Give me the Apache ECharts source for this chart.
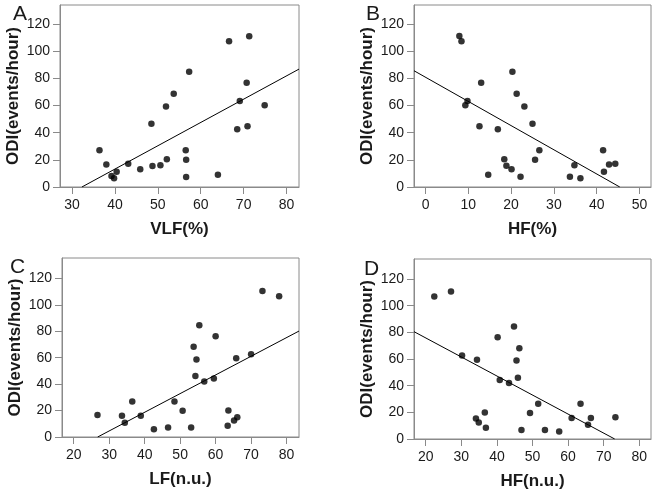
<!DOCTYPE html>
<html>
<head>
<meta charset="utf-8">
<script src="https://cdn.jsdelivr.net/npm/echarts@6/dist/echarts.min.js"></script>
<style>html,body{margin:0;padding:0;background:#fff}#c{width:657px;height:497px}</style>
</head>
<body>
<div id="c"></div>
<script>
// ---- data ----
const yTickValues = [0, 20, 40, 60, 80, 100, 120];

const vlfX = [36.4, 38.0, 39.2, 39.8, 40.4, 43.1, 45.9, 48.5, 48.75, 50.6, 51.9, 52.1, 53.7, 56.5, 56.6, 56.6, 57.3, 64.0, 66.6, 68.5, 69.1, 70.7, 70.9, 71.3, 74.9];
const vlfY = [27.1, 16.6, 8.1, 6.4, 11.2, 17.1, 13.0, 46.5, 15.4, 16.1, 59.2, 20.5, 68.7, 27.1, 20.0, 7.3, 84.8, 9.0, 107.3, 42.5, 63.3, 76.8, 44.7, 111.0, 60.1];
const vlfFit = [[32.3, 0], [82.9, 86.8]];
const vlfTicks = [30, 40, 50, 60, 70, 80];

const hfPctX = [7.9, 8.4, 9.3, 9.8, 12.6, 13.0, 14.65, 16.9, 18.4, 18.9, 20.1, 20.3, 21.3, 22.2, 23.1, 25.0, 25.6, 26.6, 33.75, 34.8, 36.2, 41.5, 41.7, 42.9, 44.35];
const hfPctY = [111.2, 107.3, 60.1, 63.3, 44.7, 76.8, 9.0, 42.5, 20.5, 15.6, 13.0, 84.8, 68.7, 7.6, 59.2, 46.5, 20.0, 27.1, 7.6, 16.1, 6.4, 27.1, 11.2, 16.6, 17.1];
const hfPctFit = [[-2.7, 85.6], [45.4, 0]];
const hfPctTicks = [0, 10, 20, 30, 40, 50];

const lfX = [26.7, 33.6, 34.4, 36.5, 38.9, 42.6, 46.6, 48.4, 50.7, 53.1, 53.8, 54.3, 54.6, 55.4, 56.8, 59.5, 60.0, 63.4, 63.6, 65.2, 65.8, 66.1, 70.0, 73.2, 77.9];
const lfY = [16.7, 16.0, 10.8, 26.8, 16.0, 5.9, 7.1, 26.8, 19.9, 7.1, 68.3, 46.2, 58.7, 84.5, 42.0, 44.2, 76.2, 8.6, 20.1, 12.5, 59.7, 15.0, 62.7, 110.6, 106.6];
const lfFit = [[26.75, 0], [83.5, 80.2]];
const nuTicks = [20, 30, 40, 50, 60, 70, 80];

const hfNuX = [22.4, 27.1, 30.2, 34.1, 34.4, 34.9, 36.6, 36.9, 40.2, 40.8, 43.4, 44.8, 45.5, 45.9, 46.3, 46.9, 49.3, 51.6, 53.5, 57.5, 61.0, 63.5, 65.6, 66.4, 73.3];
const hfNuY = [106.9, 110.6, 62.7, 15.3, 59.5, 12.3, 19.8, 8.4, 76.3, 44.2, 42.0, 84.4, 58.8, 45.9, 68.1, 6.7, 19.5, 26.4, 6.7, 5.7, 15.8, 26.4, 10.6, 15.8, 16.3];
const hfNuFit = [[16.7, 80.5], [73.1, 0]];

const panelLetters = ['A', 'B', 'C', 'D'];
const xTitles = ['VLF(%)', 'HF(%)', 'LF(n.u.)', 'HF(n.u.)'];
const yTitle = 'ODI(events/hour)';

// ---- layout / style ----
const FONT = '"Liberation Sans", Arial, sans-serif';
const panels = [
  {xs: vlfX, ys: vlfY, fit: vlfFit, ticks: vlfTicks, xmin: 27.2, xmax: 82.9, ymax: 134, grid: {left: 60, top: 5, width: 239, height: 182}},
  {xs: hfPctX, ys: hfPctY, fit: hfPctFit, ticks: hfPctTicks, xmin: -2.7, xmax: 52.7, ymax: 134, grid: {left: 414, top: 5, width: 237, height: 182}},
  {xs: lfX, ys: lfY, fit: lfFit, ticks: nuTicks, xmin: 16.7, xmax: 83.5, ymax: 135.5, grid: {left: 62, top: 258, width: 237, height: 179}},
  {xs: hfNuX, ys: hfNuY, fit: hfNuFit, ticks: nuTicks, xmin: 16.7, xmax: 83.3, ymax: 135, grid: {left: 414, top: 259, width: 237, height: 180}}
];
const letterPos = [[13, 4], [366, 4], [10, 257], [364, 259]];

const frameColor = '#8a8a8a';
const grids = [], xAxes = [], yAxes = [], series = [], titles = [];
panels.forEach((p, i) => {
  grids.push(Object.assign({show: true, borderColor: frameColor, borderWidth: 1, backgroundColor: 'transparent'}, p.grid));
  const labelStyle = {fontFamily: FONT, fontSize: 14, color: '#1a1a1a'};
  xAxes.push({
    type: 'value', gridIndex: i, min: p.xmin, max: p.xmax,
    splitLine: {show: false},
    axisLine: {show: true, onZero: false, lineStyle: {color: frameColor, width: 1}},
    axisTick: {show: true, length: 7, lineStyle: {color: frameColor}, customValues: p.ticks},
    axisLabel: Object.assign({margin: 11, customValues: p.ticks}, labelStyle),
    name: xTitles[i], nameLocation: 'middle', nameGap: 34, nameMoveOverlap: false,
    nameTextStyle: {fontFamily: FONT, fontSize: 17, fontWeight: 'bold', color: '#1a1a1a'}
  });
  yAxes.push({
    type: 'value', gridIndex: i, min: 0, max: p.ymax,
    splitLine: {show: false},
    axisLine: {show: true, onZero: false, lineStyle: {color: frameColor, width: 1}},
    axisTick: {show: true, length: 7, lineStyle: {color: frameColor}, customValues: yTickValues},
    axisLabel: Object.assign({margin: 10, customValues: yTickValues}, labelStyle),
    name: yTitle, nameLocation: 'middle', nameGap: 38, nameMoveOverlap: false,
    nameTextStyle: {fontFamily: FONT, fontSize: 17, fontWeight: 'bold', color: '#1a1a1a'}
  });
  series.push({
    type: 'scatter', xAxisIndex: i, yAxisIndex: i,
    data: p.xs.map((x, k) => [x, p.ys[k]]),
    symbol: 'circle', symbolSize: 6.5,
    itemStyle: {color: '#000'}, silent: true, animation: false
  });
  series.push({
    type: 'line', xAxisIndex: i, yAxisIndex: i,
    data: p.fit, showSymbol: false, symbol: 'none',
    lineStyle: {color: '#000', width: 1}, silent: true, animation: false, clip: true
  });
  titles.push({
    text: panelLetters[i], left: letterPos[i][0], top: letterPos[i][1], padding: 0,
    textStyle: {fontFamily: FONT, fontSize: 21, fontWeight: 'normal', color: '#1a1a1a'}
  });
});

const chart = echarts.init(document.getElementById('c'), null, {renderer: 'canvas'});
chart.setOption({
  backgroundColor: '#fff',
  animation: false,
  title: titles,
  grid: grids,
  xAxis: xAxes,
  yAxis: yAxes,
  series: series
});
</script>
</body>
</html>
